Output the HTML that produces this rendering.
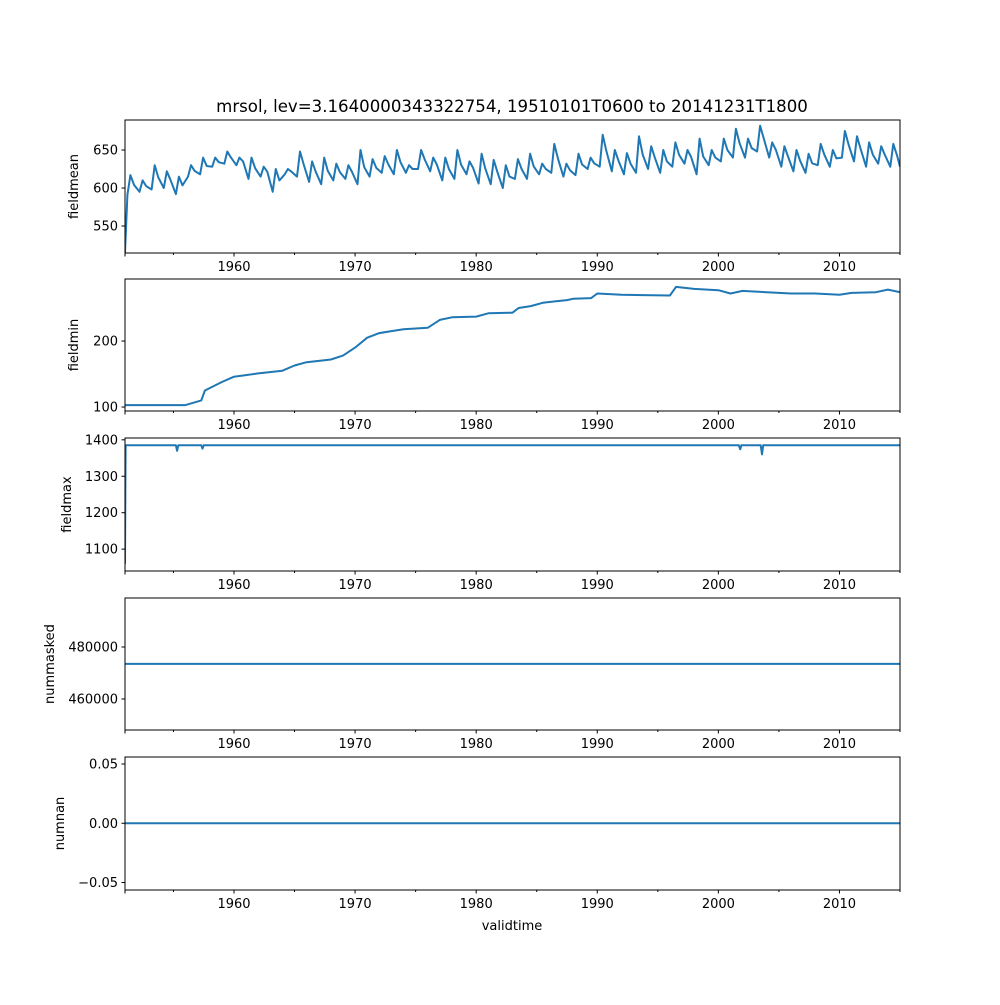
<!DOCTYPE html>
<html><head><meta charset="utf-8"><style>
body{margin:0;background:#fff}
svg text{font-family:"DejaVu Sans","Liberation Sans",sans-serif;font-size:13px;fill:#000}
</style></head><body>
<svg id="fig" width="1000" height="1000" xmlns="http://www.w3.org/2000/svg">
<rect width="1000" height="1000" fill="#fff"/>
<text x="512" y="112" text-anchor="middle" style="font-size:16.6px">mrsol, lev=3.1640000343322754, 19510101T0600 to 20141231T1800</text>
<text x="512" y="930" text-anchor="middle">validtime</text>
</svg>
<script>
const meanYears = [];
for (let y = 1951; y <= 2014; y++) meanYears.push(y);
const meanPeaks = [617,610,630,622,615,630,640,640,648,640,640,628,625,625,648,635,640,632,630,650,638,642,650,630,650,640,640,650,635,645,637,630,638,645,632,658,632,645,640,670,650,646,668,655,650,660,650,665,650,665,678,665,682,660,655,650,645,658,650,675,668,660,655,658];
const meanTroughs = [591,595,598,600,592,615,618,628,632,630,612,615,595,618,615,608,605,610,612,605,615,620,618,620,625,622,610,612,618,606,605,600,612,612,618,620,615,617,625,628,622,618,620,625,620,628,632,618,630,635,640,640,648,640,628,622,620,630,628,640,635,628,632,628];
const minTimes = [1951,1956,1957.3,1957.6,1959,1960,1962,1964,1965,1966,1968,1969,1970,1971,1972,1973,1974,1976,1977,1978,1980,1981,1983,1983.5,1984.5,1985.5,1986.5,1987.5,1988,1989.5,1990,1992,1996,1996.5,1998,2000,2001,2002,2004,2006,2008,2010,2011,2013,2014,2015];
const minValues = [103,103,110,125,138,146,151,155,163,168,172,178,190,205,212,215,218,220,232,236,237,242,243,250,253,258,260,262,264,265,272,270,269,282,279,277,272,276,274,272,272,270,273,274,278,274];
const maxTimes = [1951,1951.05,1951.15,1955.2,1955.3,1955.4,1957.3,1957.4,1957.5,2001.7,2001.8,2001.9,2003.5,2003.6,2003.7,2015];
const maxValues = [1060,1385,1385,1385,1370,1385,1385,1376,1385,1385,1374,1385,1385,1360,1385,1385];
const maskedTimes = [1951,2015];
const maskedValues = [473500,473500];
const nanTimes = [1951,2015];
const nanValues = [0,0];
const xTickLabels = [1960,1970,1980,1990,2000,2010];

const NS='http://www.w3.org/2000/svg';
const svg=document.getElementById('fig');
const X0=125,X1=900,T0=1951,T1=2015;
const xs=t=>X0+(t-T0)/(T1-T0)*(X1-X0);
function el(tag,attrs,parent){const e=document.createElementNS(NS,tag);for(const k in attrs)e.setAttribute(k,attrs[k]);(parent||svg).appendChild(e);return e;}

const meanT=[1951], meanV=[515];
meanYears.forEach((y,i)=>{meanT.push(y+0.2);meanV.push(meanTroughs[i]);meanT.push(y+0.45);meanV.push(meanPeaks[i]);meanT.push(y+0.75);meanV.push((meanPeaks[i]+meanTroughs[i])/2);});
meanT.push(2015);meanV.push(628);

const panels=[
 {name:'fieldmean',top:120,bot:253,ymin:514.5,ymax:689.5,ticks:[550,600,650],lab:['550','600','650'],t:meanT,v:meanV},
 {name:'fieldmin',top:279,bot:411,ymin:94,ymax:294,ticks:[100,200],lab:['100','200'],t:minTimes,v:minValues},
 {name:'fieldmax',top:438,bot:571,ymin:1040,ymax:1405,ticks:[1100,1200,1300,1400],lab:['1100','1200','1300','1400'],t:maxTimes,v:maxValues},
 {name:'nummasked',top:598,bot:730,ymin:448077,ymax:498850,ticks:[460000,480000],lab:['460000','480000'],t:maskedTimes,v:maskedValues},
 {name:'numnan',top:757,bot:890,ymin:-0.0563,ymax:0.0559,ticks:[-0.05,0,0.05],lab:['\u22120.05','0.00','0.05'],t:nanTimes,v:nanValues}
];
panels.forEach(p=>{
 const g=el('g',{});
 
 
 const ys=v=>p.bot-(v-p.ymin)/(p.ymax-p.ymin)*(p.bot-p.top);
 const cp='cp-'+p.name;
 const c=el('clipPath',{id:cp},g);el('rect',{x:X0,y:p.top,width:X1-X0,height:p.bot-p.top},c);
 const d=p.t.map((t,i)=>(i?'L':'M')+xs(t).toFixed(1)+','+ys(p.v[i]).toFixed(1)).join('');
 const line=el('path',{d:d,fill:'none',stroke:'#1f77b4','stroke-width':2,'stroke-linejoin':'round','clip-path':'url(#'+cp+')'},g);
 
 
 el('rect',{x:X0,y:p.top,width:X1-X0,height:p.bot-p.top,fill:'none',stroke:'#000','stroke-width':1},g);
 p.ticks.forEach((v,i)=>{
  const y=ys(v);
  el('line',{x1:X0-3.5,x2:X0,y1:y,y2:y,stroke:'#000'},g);
  const tx=el('text',{x:X0-7,y:y+4.5,'text-anchor':'end'},g);tx.textContent=p.lab[i];
  
  
 });
 for(let yr=1955;yr<=2015;yr+=5){
  const x=xs(yr);const major=yr%10===0;
  el('line',{x1:x,x2:x,y1:p.bot,y2:p.bot+(major?3.5:2),stroke:'#000'},g);
 }
 el('line',{x1:X0,x2:X0,y1:p.bot,y2:p.bot+3.5,stroke:'#000'},g);
 xTickLabels.forEach(yr=>{
  const tx=el('text',{x:xs(yr),y:p.bot+18,'text-anchor':'middle'},g);tx.textContent=yr;
  
  
 });
 const yl=el('text',{x:0,y:0,'text-anchor':'middle',transform:'translate('+(p.name==='fieldmean'||p.name==='fieldmin'?78:(p.name==='nummasked'?54:(p.name==='fieldmax'?71:64)))+','+((p.top+p.bot)/2)+') rotate(-90)'},g);
 yl.textContent=p.name;
 
 
});
</script>
</body></html>
